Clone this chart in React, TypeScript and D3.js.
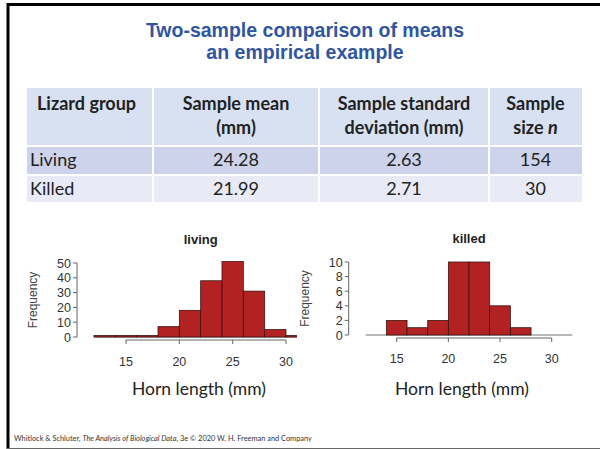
import React from "react";
import * as d3 from "d3";

const titleLines = ["Two-sample comparison of means", "an empirical example"];
const tableHeaders = [["Lizard group"], ["Sample mean", "(mm)"], ["Sample standard", "deviation (mm)"], ["Sample", "size n"]];
const groups = ["Living", "Killed"];
const means = ["24.28", "21.99"];
const sds = ["2.63", "2.71"];
const sizes = ["154", "30"];

const livingBreaks = [12, 14, 16, 18, 20, 22, 24, 26, 28, 30, 32];
const livingCounts = [1, 1, 1, 7, 18, 38, 51, 31, 5, 1];
const killedBreaks = [14, 16, 18, 20, 22, 24, 26, 28];
const killedCounts = [2, 1, 2, 10, 10, 4, 1];
const xTicks = [15, 20, 25, 30];
const livingYTicks = [0, 10, 20, 30, 40, 50];
const killedYTicks = [0, 2, 4, 6, 8, 10];

const footer = "Whitlock & Schluter, ";
const footerItalic = "The Analysis of Biological Data";
const footerEnd = ", 3e © 2020 W. H. Freeman and Company";

const sans = "'Liberation Sans', Arial, sans-serif";
const cal = "Lato, 'Open Sans', sans-serif";

function Hist({ title, breaks, counts, yTicks, xRange, yRange, yMax, clipRight, id, tickDy, hornX }: any) {
  const x = d3.scaleLinear().domain([15, 30]).range(xRange);
  const y = d3.scaleLinear().domain([0, yMax]).range(yRange);
  const yAxisX = x(12) - 17;
  const axisY = y(0) + 3;
  const clipW = clipRight ?? x(32) + 2;
  return (
    <g>
      <defs>
        <clipPath id={id}>
          <rect x={x(12) - 2} y={y(yMax) - 10} width={clipW - x(12) + 2} height={y(0) - y(yMax) + 14} />
        </clipPath>
      </defs>
      <text x={x(22)} y={y(yMax) - 19} textAnchor="middle" fontFamily={sans} fontWeight="bold" fontSize={13} fill="#222">{title}</text>
      <g clipPath={`url(#${id})`}>
        <line x1={x(12)} x2={x(32)} y1={y(0)} y2={y(0)} stroke="#777" strokeWidth={1} />
        {counts.map((c: number, i: number) => (
          <rect key={i} x={x(breaks[i])} y={y(c)} width={x(breaks[i + 1]) - x(breaks[i])} height={y(0) - y(c)}
            fill="#b22222" stroke="#3b1414" strokeWidth={0.8} />
        ))}
      </g>
      <line x1={yAxisX} x2={yAxisX} y1={y(0)} y2={y(yMax)} stroke="#666" />
      {yTicks.map((t: number) => (
        <g key={t}>
          <line x1={yAxisX - 4} x2={yAxisX} y1={y(t)} y2={y(t)} stroke="#666" />
          <text x={yAxisX - 6} y={y(t) + 4.5} textAnchor="end" fontFamily={sans} fontSize={12.5} fill="#333">{t}</text>
        </g>
      ))}
      <text transform={`translate(${yAxisX - 40},${(y(0) + y(yMax)) / 2}) rotate(-90)`} textAnchor="middle" fontFamily={sans} fontSize={12} fill="#444">Frequency</text>
      <line x1={x(15)} x2={x(30)} y1={axisY} y2={axisY} stroke="#666" />
      {xTicks.map((t) => (
        <g key={t}>
          <line x1={x(t)} x2={x(t)} y1={axisY} y2={axisY + 4} stroke="#666" />
          <text x={x(t)} y={axisY + tickDy} textAnchor="middle" fontFamily={sans} fontSize={12.5} fill="#333">{t}</text>
        </g>
      ))}
      <text x={hornX} y={395} textAnchor="middle" fontFamily={cal} fontSize={17.5} fill="#222">Horn length (mm)</text>
    </g>
  );
}

export default function App() {
  const colX = [27, 153, 319, 489, 582];
  const rowY = [88, 146, 175, 203];
  const rowFill = ["#d7e1f2", "#cdd3ea", "#e8eaf5"];
  return (
    <div style={{ position: "fixed", left: 0, top: 0 }}>
      <svg width={600} height={449} style={{ display: "block", background: "#fff" }}>
        <rect x={0} y={0} width={600} height={449} fill="#fff" />
        <line x1={7} x2={600} y1={4.5} y2={4.5} stroke="#000" strokeWidth={3} />
        <line x1={8} x2={8} y1={3} y2={449} stroke="#000" strokeWidth={3} />
        <line x1={7} x2={600} y1={448.5} y2={448.5} stroke="#666" strokeWidth={1} />
        {titleLines.map((t, i) => (
          <text key={i} x={305} y={37 + i * 22} textAnchor="middle" fontFamily={sans} fontWeight="bold" fontSize={19.5} fill="#2f56a0">{t}</text>
        ))}
        {[0, 1, 2].map((r) => (
          <g key={r}>
            {[0, 1, 2, 3].map((c) => (
              <rect key={c} x={colX[c] + (c > 0 ? 1 : 0)} y={rowY[r] + (r > 0 ? 1 : 0)} width={colX[c + 1] - colX[c] - (c > 0 ? 1 : 0) - (c < 3 ? 1 : 0)}
                height={rowY[r + 1] - rowY[r] - (r > 0 ? 1 : 0) - 1} fill={rowFill[r]} />
            ))}
          </g>
        ))}
        {tableHeaders.map((lines, c) =>
          lines.map((ln, j) => {
            const cx = c === 0 ? 37 : (colX[c] + colX[c + 1]) / 2;
            const isN = c === 3 && j === 1;
            return (
              <text key={c + "-" + j} x={cx} y={110 + j * 24} textAnchor={c === 0 ? "start" : "middle"} fontFamily={cal} fontWeight="bold" fontSize={18} fill="#222">
                {isN ? (<>size <tspan fontStyle="italic">n</tspan></>) : ln}
              </text>
            );
          })
        )}
        {groups.map((g, r) => {
          const yy = rowY[r + 1] + 20;
          const vals = [means[r], sds[r], sizes[r]];
          return (
            <g key={g}>
              <text x={30} y={yy} fontFamily={cal} fontSize={18} fill="#222">{g}</text>
              {vals.map((v, c) => (
                <text key={c} x={(colX[c + 1] + colX[c + 2]) / 2} y={yy} textAnchor="middle" fontFamily={cal} fontSize={18} fill="#222">{v}</text>
              ))}
            </g>
          );
        })}
        <Hist id="clipL" title="living" breaks={livingBreaks} counts={livingCounts} yTicks={livingYTicks}
          xRange={[126, 286]} yRange={[337, 263]} yMax={50} clipRight={297} tickDy={26} hornX={199} />
        <Hist id="clipK" title="killed" breaks={killedBreaks} counts={killedCounts} yTicks={killedYTicks}
          xRange={[396.7, 551.7]} yRange={[335, 262]} yMax={10} tickDy={25} hornX={462} />
        <text x={14} y={441} fontFamily={cal} fontSize={7.4} fill="#333">
          {footer}<tspan fontStyle="italic">{footerItalic}</tspan>{footerEnd}
        </text>
      </svg>
    </div>
  );
}
